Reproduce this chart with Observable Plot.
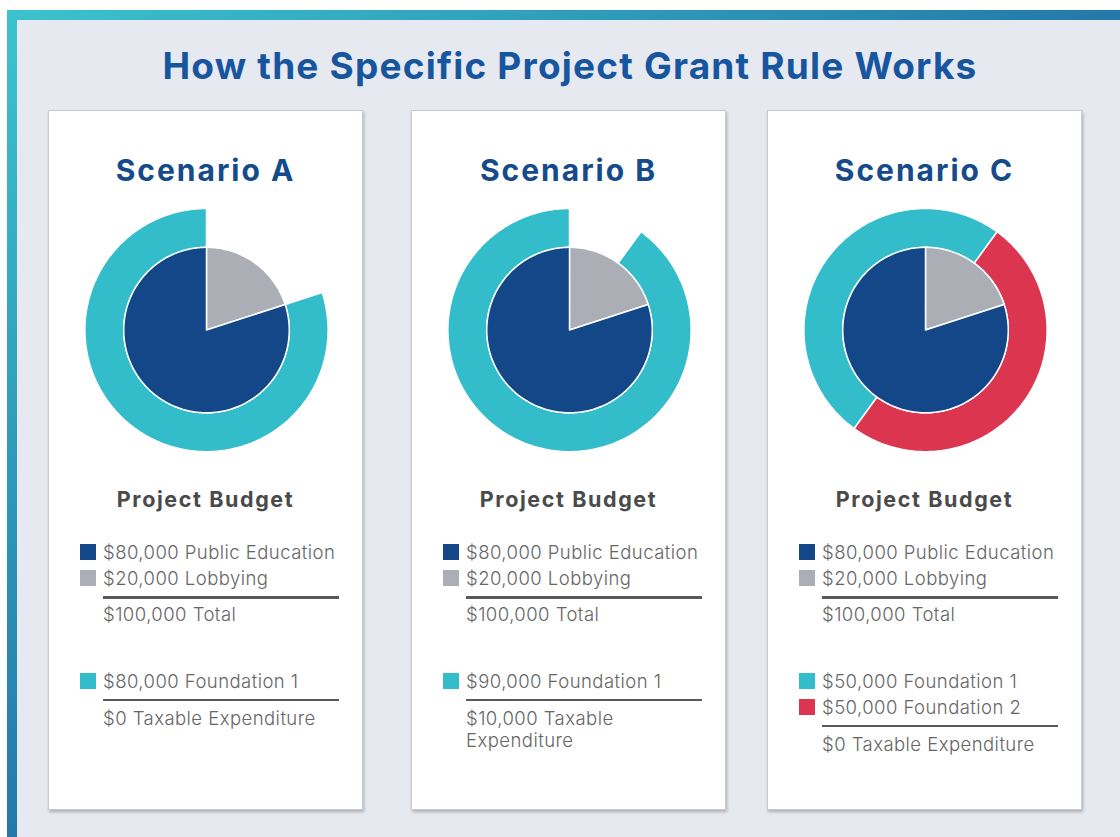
<!DOCTYPE html>
<html>
<head>
<meta charset="utf-8">
<script src="https://cdn.jsdelivr.net/npm/d3@7"></script>
<script src="https://cdn.jsdelivr.net/npm/@observablehq/plot@0.6"></script>
<style>
  body { margin:0; width:1120px; height:837px; overflow:hidden; background:#fff; font-family: Inter, "Open Sans", sans-serif; }
  #frame { position:absolute; left:7px; top:10px; width:1113px; height:827px;
    background: linear-gradient(to bottom right, #3cc3cd 0%, #2379a9 50%, #1a4f90 100%); }
  #inner { position:absolute; left:17px; top:20px; width:1103px; height:817px; background:#e6e9ef; }
  #title { position:absolute; left:20px; width:1100px; top:44px; height:44px; line-height:44px; text-align:center;
    font-size:37px; font-weight:700; color:#17569f; white-space:nowrap; letter-spacing:1.2px; }
  .panel { position:absolute; top:110px; width:313px; height:698px; background:#fff; border:1px solid #c9cbd0;
    box-shadow: 1px 2px 3px rgba(0,0,0,0.25); }
  .scen { position:absolute; left:0; width:100%; top:39px; height:40px; line-height:40px; text-align:center;
    font-size:30px; font-weight:700; color:#154b8b; white-space:nowrap; letter-spacing:2px; }
  .plot { position:absolute; left:1px; top:89px; }
  .pb { position:absolute; left:0; width:100%; top:374px; height:28px; line-height:28px; text-align:center;
    font-size:21.5px; font-weight:700; color:#4a4a4a; letter-spacing:1.6px; }
  .legend { position:absolute; left:0; top:428px; width:100%; font-size:18.5px; font-weight:300; color:#666; letter-spacing:0.45px; }
  .row { display:flex; align-items:center; height:26px; white-space:nowrap; }
  .sw { width:16px; height:16px; margin-left:31px; margin-right:7px; flex:none; }
  .txt { padding-left:54px; line-height:22px; width:236px; }
  .rule { margin-left:54px; width:236px; height:2.5px; background:#58595b; }
</style>
</head>
<body>
<div id="frame"></div>
<div id="inner"></div>
<div id="title">How the Specific Project Grant Rule Works</div>
<div id="panels"></div>
<script>
// ---- data ----
const title = "How the Specific Project Grant Rule Works";
const scenarios = ["Scenario A", "Scenario B", "Scenario C"];
const budgetItems = ["Public Education", "Lobbying"];
const budgetValues = [80000, 20000];
const fundersA = ["Foundation 1"];
const fundingA = [80000];
const fundersB = ["Foundation 1"];
const fundingB = [90000];
const fundersC = ["Foundation 1", "Foundation 2"];
const fundingC = [50000, 50000];
const taxableExpenditure = [0, 10000, 0];

// ---- styles / layout ----
const colorKeys = ["Public Education", "Lobbying", "Foundation 1", "Foundation 2"];
const colorRange = ["#134787", "#abaeb5", "#33bdca", "#dc354f"];
const colorOf = k => colorRange[colorKeys.indexOf(k)];
const panelLeft = [48, 411, 767];
const ringOffsetDeg = [0, 0, 36];
const pieR = 83, ringR = 122;

const fmt = d3.format("$,.0f");
const funders = [fundersA, fundersB, fundersC];
const funding = [fundingA, fundingB, fundingC];
const total = d3.sum(budgetValues);

function wedge(key, id, a0, a1, r0, r1) {
  const pts = [];
  const n = Math.max(2, Math.ceil(Math.abs(a1 - a0)));
  const rad = a => a * Math.PI / 180;
  for (let i = 0; i <= n; i++) {
    const a = rad(a0 + (a1 - a0) * i / n);
    pts.push({key, id, x: r1 * Math.sin(a), y: r1 * Math.cos(a)});
  }
  if (r0 === 0) pts.push({key, id, x: 0, y: 0});
  else for (let i = n; i >= 0; i--) {
    const a = rad(a0 + (a1 - a0) * i / n);
    pts.push({key, id, x: r0 * Math.sin(a), y: r0 * Math.cos(a)});
  }
  return pts;
}

const container = document.getElementById("panels");
scenarios.forEach((name, s) => {
  // pie (clockwise from top, last item first)
  const piePts = [];
  let a = 0;
  for (let i = budgetItems.length - 1; i >= 0; i--) {
    const span = budgetValues[i] / total * 360;
    piePts.push(...wedge(budgetItems[i], "p" + i, a, a + span, 0, pieR));
    a += span;
  }
  // ring
  const ringPts = [];
  const fsum = d3.sum(funding[s]);
  a = ringOffsetDeg[s] + (1 - fsum / total) * 360;
  for (let i = funders[s].length - 1; i >= 0; i--) {
    const span = funding[s][i] / total * 360;
    ringPts.push(...wedge(funders[s][i], "r" + i, a, a + span, pieR, ringR));
    a += span;
  }
  const chart = Plot.plot({
    width: 313, height: 260, margin: 0,
    x: {domain: [-156.5, 156.5], axis: null},
    y: {domain: [-130, 130], axis: null},
    color: {domain: colorKeys, range: colorRange},
    style: {background: "transparent", overflow: "visible"},
    marks: [
      Plot.line(ringPts, {x: "x", y: "y", z: "id", fill: "key", stroke: "white", strokeWidth: 1.5, curve: "linear-closed"}),
      Plot.line(piePts, {x: "x", y: "y", z: "id", fill: "key", stroke: "white", strokeWidth: 1.5, curve: "linear-closed"})
    ]
  });

  const panel = document.createElement("div");
  panel.className = "panel";
  panel.style.left = panelLeft[s] + "px";
  panel.innerHTML = `<div class="scen">${name}</div><div class="pb">Project Budget</div>`;
  const pd = document.createElement("div");
  pd.className = "plot";
  pd.appendChild(chart);
  panel.appendChild(pd);

  const lg = document.createElement("div");
  lg.className = "legend";
  let html = "";
  budgetItems.forEach((k, i) => {
    html += `<div class="row"><div class="sw" style="background:${colorOf(k)}"></div><span>${fmt(budgetValues[i])} ${k}</span></div>`;
  });
  html += `<div class="rule" style="margin-top:5px"></div>`;
  html += `<div class="row" style="margin-top:3px;height:25px"><span class="txt">${fmt(total)} Total</span></div>`;
  html += `<div style="height:41px"></div>`;
  funders[s].forEach((k, i) => {
    html += `<div class="row"><div class="sw" style="background:${colorOf(k)}"></div><span>${fmt(funding[s][i])} ${k}</span></div>`;
  });
  html += `<div class="rule" style="margin-top:5px"></div>`;
  html += `<div class="txt" style="margin-top:6px;white-space:normal">${fmt(taxableExpenditure[s])} Taxable Expenditure</div>`;
  lg.innerHTML = html;
  panel.appendChild(lg);
  container.appendChild(panel);
});
</script>
</body>
</html>
